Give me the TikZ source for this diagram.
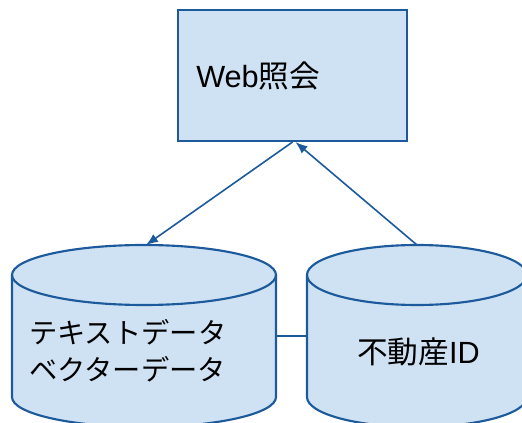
\documentclass[tikz,border=0pt]{standalone}
\usepackage{fontspec}
\setmainfont{Liberation Sans}
\newfontfamily\cjk{Noto Sans CJK JP}
\usetikzlibrary{arrows.meta}
\definecolor{lineblue}{RGB}{28,90,156}
\definecolor{fillblue}{RGB}{207,226,243}
\tikzset{
  shapeline/.style={draw=lineblue,line width=1.6pt,fill=fillblue},
  conn/.style={draw=lineblue,line width=1.2pt},
  arr/.style={conn,-{Latex[length=9pt,width=7pt]}},
  bigtext/.style={font=\fontsize{23pt}{27pt}\selectfont,inner sep=0pt},
  midtext/.style={font=\fontsize{21.2pt}{28pt}\selectfont,inner sep=0pt,align=left}
}
\begin{document}
\begin{tikzpicture}[x=0.75pt,y=0.75pt]
\useasboundingbox (0,0) rectangle (522,422);
\clip (0,0) rectangle (522,422);
% box
\node[shapeline,minimum width=229*0.75pt,minimum height=131*0.75pt,inner sep=0pt] (web) at (292.5,346.5) {};
\node[bigtext,anchor=west] (webt) at (196,346) {Web{\cjk 照会}};
% left cylinder
\path[shapeline] (12,147) -- (12,25) arc(180:360:132 and 30) -- (276,147) arc(0:180:132 and 30) -- cycle;
\draw[conn,line width=1.6pt] (12,147) arc(180:360:132 and 30);
\coordinate (ltop) at (146,177);
\coordinate (lright) at (276,86);
\node[midtext,anchor=west] (ltext) at (29,71) {{\cjk テキストデータ}\\[-0.5pt]{\cjk ベクターデータ}};
% right cylinder
\path[shapeline] (307,147) -- (307,25) arc(180:360:110 and 30) -- (527,147) arc(0:180:110 and 30) -- cycle;
\draw[conn,line width=1.6pt] (307,147) arc(180:360:110 and 30);
\coordinate (rtop) at (417,177);
\coordinate (rleft) at (307,86);
\node[bigtext] (rtext) at (418.5,70) {{\cjk 不動産}ID};
% connectors
\coordinate (wb1) at (web.south);
\coordinate (wb2) at ([xshift=3*0.75pt]web.south);
\draw[arr] (wb1) -- (ltop);
\draw[arr] (rtop) -- (wb2);
\draw[conn] (lright) -- (rleft);
\end{tikzpicture}
\end{document}
